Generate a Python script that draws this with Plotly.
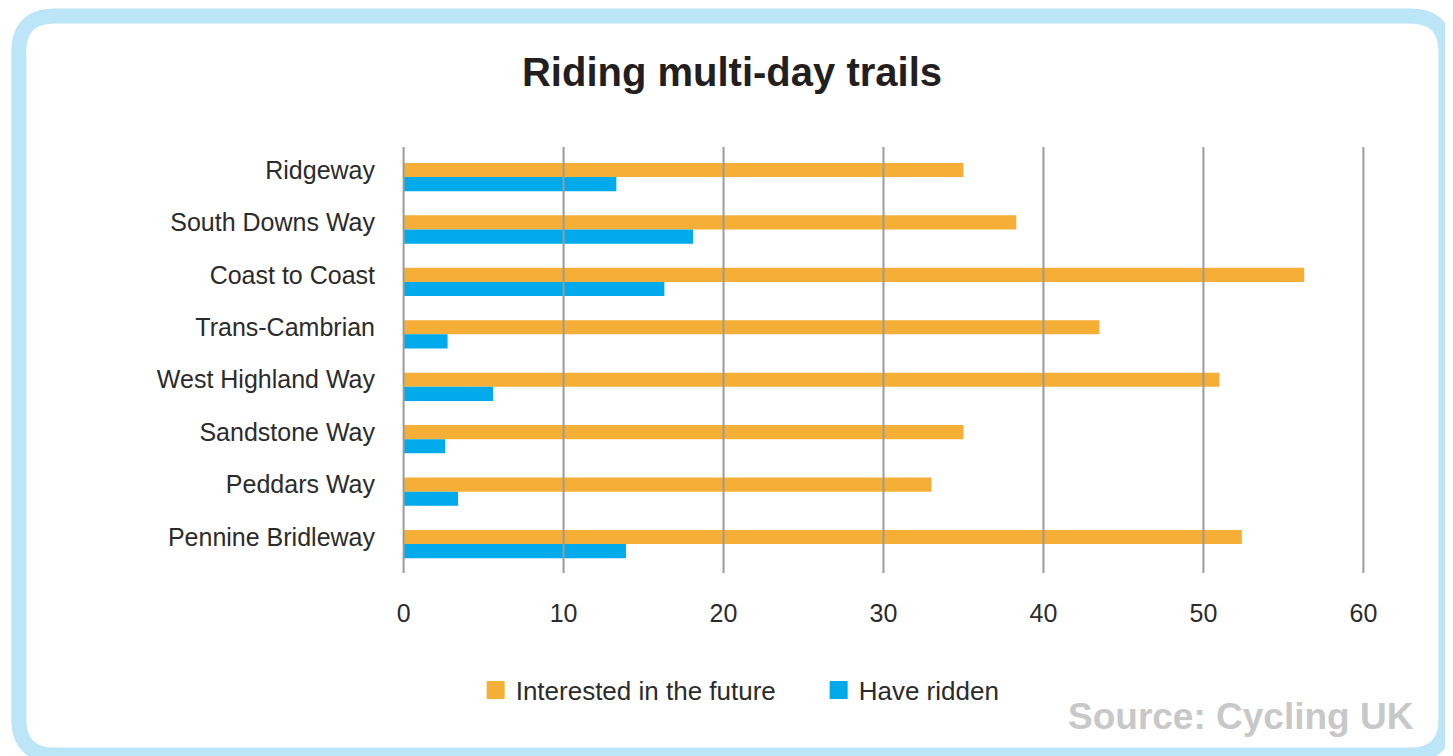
import plotly.graph_objects as go

trails = ["Ridgeway", "South Downs Way", "Coast to Coast", "Trans-Cambrian",
          "West Highland Way", "Sandstone Way", "Peddars Way", "Pennine Bridleway"]
interested = [35.0, 38.3, 56.3, 43.5, 51.0, 35.0, 33.0, 52.4]
ridden = [13.3, 18.1, 16.3, 2.75, 5.6, 2.6, 3.4, 13.9]
x_ticks = [0, 10, 20, 30, 40, 50, 60]
series_names = ["Interested in the future", "Have ridden"]
colors = ["#f5af36", "#01aaea"]

# page body has an 8px margin; work in screen pixels and shift by it
OFF = 8
W, H = 1453 - OFF, 756 - OFF
L, R, T, B = 402.4 - OFF, 88.4, 147 - OFF, 183
pw, ph = W - L - R, H - T - B

def px2paper(x, y):
    # x, y are screen pixel coordinates
    x -= OFF
    y -= OFF
    return (x - L) / pw, (H - B - y) / ph

fig = go.Figure()
bw = 0.27
fig.add_trace(go.Bar(y=trails, x=interested, orientation="h", name=series_names[0],
                     marker=dict(color=colors[0], line=dict(width=0)),
                     width=bw, offset=-bw / 2, showlegend=False, hoverinfo="x+y"))
fig.add_trace(go.Bar(y=trails, x=ridden, orientation="h", name=series_names[1],
                     marker=dict(color=colors[1], line=dict(width=0)),
                     width=bw, offset=bw / 2, showlegend=False, hoverinfo="x+y"))
for nm, c in zip(series_names, colors):
    fig.add_trace(go.Scatter(x=[None], y=[None], mode="markers", name=nm,
                             marker=dict(symbol="square", size=16, color=c,
                                         line=dict(color=c, width=2))))

# rounded border (screen pixel coordinates converted to paper)
x0, x1, y0, y1, r = 19.5, 1445.5, 16, 755, 36
def P(x, y):
    a, b = px2paper(x, y)
    return f"{a:.5f},{b:.5f}"
path = (f"M{P(x0 + r, y0)} L{P(x1 - r, y0)} Q{P(x1, y0)} {P(x1, y0 + r)} "
        f"L{P(x1, y1 - r)} Q{P(x1, y1)} {P(x1 - r, y1)} "
        f"L{P(x0 + r, y1)} Q{P(x0, y1)} {P(x0, y1 - r)} "
        f"L{P(x0, y0 + r)} Q{P(x0, y0)} {P(x0 + r, y0)} Z")
shapes = [dict(type="path", xref="paper", yref="paper", path=path,
               line=dict(color="#bde5f8", width=15), fillcolor="rgba(0,0,0,0)",
               layer="below")]
for t in x_ticks:
    shapes.append(dict(type="line", xref="x", yref="paper", x0=t, x1=t, y0=0, y1=1,
                       line=dict(color="#9b9b9b", width=2), layer="above"))

font_fam = "Liberation Sans, Arial, sans-serif"
lx, ly = px2paper(476, 690)
sx, sy = px2paper(1416, 716)

fig.update_layout(
    width=W, height=H,
    margin=dict(l=L, r=R, t=T, b=B, autoexpand=False),
    paper_bgcolor="white", plot_bgcolor="white",
    barmode="overlay",
    title=dict(text="<b>Riding multi-day trails</b>", x=(732 - OFF) / W, xanchor="center",
               y=1 - (72 - OFF) / H, yanchor="middle", yref="container",
               font=dict(family=font_fam, size=40, color="#231f20")),
    xaxis=dict(range=[-0.1, 60.1], tickvals=x_ticks, showgrid=False, zeroline=False,
               showline=False, ticks="", ticklabelstandoff=23,
               tickfont=dict(family=font_fam, size=25, color="#2b2b2b")),
    yaxis=dict(range=[7.687, -0.439], showgrid=False, zeroline=False, showline=False,
               ticks="", ticklabelstandoff=26,
               tickfont=dict(family=font_fam, size=25, color="#2b2b2b")),
    legend=dict(orientation="h", x=lx, y=ly, xanchor="left", yanchor="middle",
                entrywidth=298, entrywidthmode="pixels",
                font=dict(family=font_fam, size=26, color="#2b2b2b"),
                bgcolor="rgba(0,0,0,0)", itemsizing="trace"),
    shapes=shapes,
    annotations=[dict(text="<b>Source: Cycling UK</b>", xref="paper", yref="paper",
                      x=sx, y=sy, xanchor="right", yanchor="middle", showarrow=False,
                      font=dict(family=font_fam, size=37, color="#c8c8c8"))],
)

fig.write_html("out.html")
